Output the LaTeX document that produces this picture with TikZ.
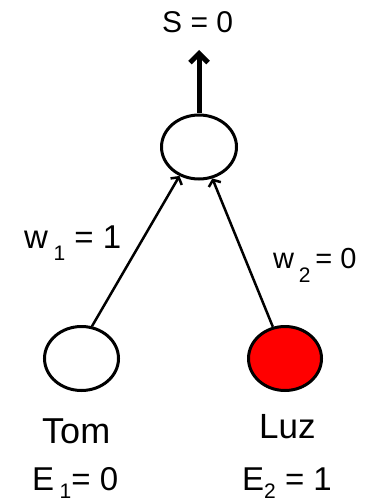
\documentclass[tikz,border=0pt]{standalone}
\usepackage{fontspec}
\setmainfont{Liberation Sans}
\usetikzlibrary{shapes.geometric,arrows.meta}
\newcommand{\subl}[2]{\raisebox{-#2}{\fontsize{21}{21}\selectfont #1}}
\begin{document}
\begin{tikzpicture}[x=1pt,y=-1pt,
  neuron/.style={ellipse,draw,line width=3pt,inner sep=0pt,fill=white},
  lbl/.style={inner sep=0pt,anchor=base west},
  inarrow/.style={line width=2.5pt,-{Straight Barb[length=5pt,width=13pt]}},
  outarrow/.style={line width=5pt,-{Straight Barb[length=9pt,width=18pt]}}]
\useasboundingbox (0,0) rectangle (376,502);
\fill[white] (0,0) rectangle (376,502);
% neurons
\node[neuron,minimum width=75pt,minimum height=64pt] (top) at (199,147) {};
\node[neuron,minimum width=74pt,minimum height=64pt] (tom) at (81.5,358.5) {};
\node[neuron,fill=red,minimum width=73pt,minimum height=64pt] (luz) at (285,358.5) {};
\coordinate (sout) at (199,50);
% connectors
\draw[inarrow] (tom.72) -- (top.236);
\draw[inarrow] (luz.111) -- (top.293);
\draw[outarrow] (top.north) -- (sout);
% labels
\node[lbl,font=\fontsize{30}{30}\selectfont] (s) at (162,33) {S = 0};
\node[lbl,font=\fontsize{33}{33}\selectfont] (w1) at (24,248) {w\,\subl{1}{12pt} = 1};
\node[lbl,font=\fontsize{29}{29}\selectfont] (w2) at (273,268) {w\,\subl{2}{14pt}\,= 0};
\node[lbl,font=\fontsize{36}{36}\selectfont] (tomlbl) at (42,443) {Tom};
\node[lbl,font=\fontsize{35}{35}\selectfont] (luzlbl) at (259,438) {Luz};
\node[lbl,font=\fontsize{33}{33}\selectfont] (e1) at (32,490) {E\,\subl{1}{8pt}= 0};
\node[lbl,font=\fontsize{33}{33}\selectfont] (e2) at (242,490) {E\subl{2}{8pt} = 1};
\end{tikzpicture}
\end{document}
